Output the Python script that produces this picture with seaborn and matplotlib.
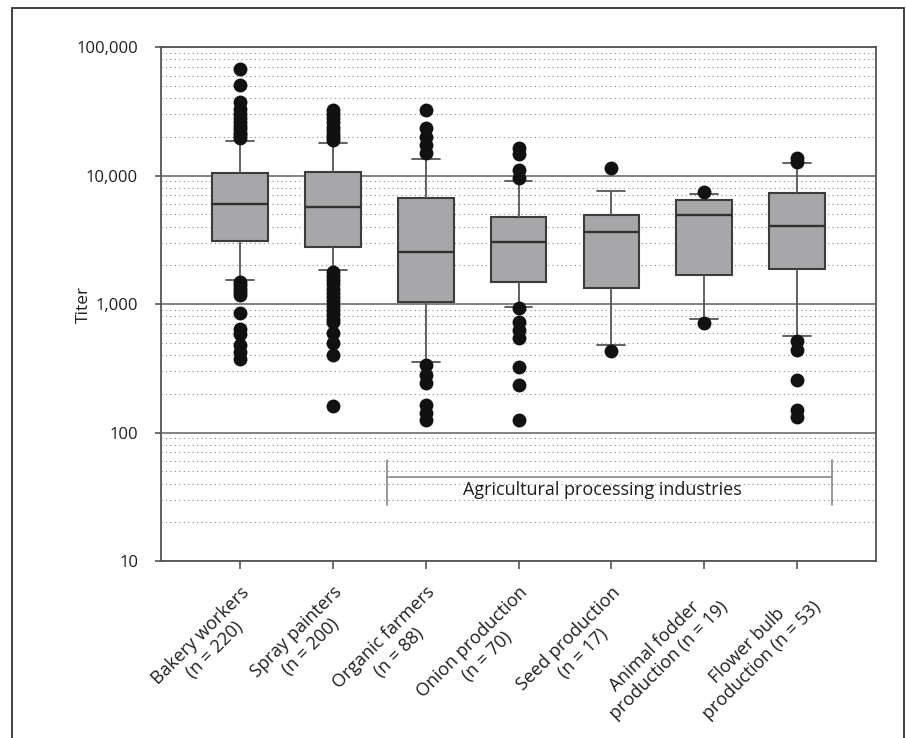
import matplotlib
matplotlib.use("Agg")
import matplotlib.pyplot as plt
from matplotlib.ticker import LogLocator, FuncFormatter, NullFormatter
from matplotlib.patches import Rectangle
import seaborn as sns
import pandas as pd

# ---- data -------------------------------------------------------------
categories = [
    "Bakery workers\n(n = 220)",
    "Spray painters\n(n = 200)",
    "Organic farmers\n(n = 88)",
    "Onion production\n(n = 70)",
    "Seed production\n(n = 17)",
    "Animal fodder\nproduction (n = 19)",
    "Flower bulb\nproduction (n = 53)",
]

# box-plot summaries per group (titer)
whisker_low = [1540, 1840, 356, 942, 480, 760, 564]
q1 = [3080, 2790, 1042, 1476, 1340, 1682, 1862]
median = [5970, 5660, 2550, 3055, 3655, 4930, 4045]
q3 = [10500, 10700, 6640, 4775, 4930, 6440, 7260]
whisker_high = [18540, 18000, 13430, 9060, 7620, 7150, 12450]

# individual outlying titers per group
outliers_bakery = [67000, 50500, 37500, 33000, 30000, 28000, 26000, 24500,
                   23000, 21500, 20500, 19500,
                   1480, 1400, 1320, 1250, 1180, 850, 640, 580, 480, 420, 375]
outliers_spray = [32500, 30000, 28000, 26000, 24000, 22500, 21000, 19800, 18800,
                  1780, 1650, 1530, 1420, 1320, 1220, 1130, 1050, 970, 900,
                  830, 770, 720, 600, 500, 400, 161]
outliers_organic = [32400, 23300, 20000, 17300, 14900,
                    335, 280, 241, 164, 141, 125]
outliers_onion = [16500, 14700, 11000, 9600,
                  935, 727, 628, 545, 325, 234, 125]
outliers_seed = [11380, 431]
outliers_fodder = [7480, 716]
outliers_bulb = [13600, 12700, 518, 438, 256, 150, 133]

y_ticks = [10, 100, 1000, 10000, 100000]
bracket_label = "Agricultural processing industries"

# ---- tables -------------------------------------------------------------
box_rows = []
for cat, lo, a, m, b, hi in zip(categories, whisker_low, q1, median, q3, whisker_high):
    for v in (lo, a, m, b, hi):
        box_rows.append({"group": cat, "titer": v})
box_df = pd.DataFrame(box_rows)

all_outliers = [outliers_bakery, outliers_spray, outliers_organic, outliers_onion,
                outliers_seed, outliers_fodder, outliers_bulb]
out_rows = [{"group": cat, "titer": v}
            for cat, vals in zip(categories, all_outliers) for v in vals]
out_df = pd.DataFrame(out_rows)

# ---- style --------------------------------------------------------------
sns.set_theme(style="white")
plt.rcParams["font.family"] = ["Open Sans", "DejaVu Sans"]
text_col = "#1e1e1e"
line_col = "#555555"

fig = plt.figure(figsize=(9.06, 7.38), dpi=100)
ax = fig.add_axes([0.1777, 0.2398, 0.9669 - 0.1777, 0.9363 - 0.2398])
ax.set_yscale("log")

sns.boxplot(
    data=box_df, x="group", y="titer", order=categories, ax=ax,
    whis=(0, 100), width=0.6, color="#a7a7a9", saturation=1,
    linecolor="#3c3c3c", linewidth=1.5, showfliers=False,
    medianprops={"color": "#303030", "linewidth": 1.7},
    whiskerprops={"color": "#555555", "linewidth": 1.3},
    capprops={"color": "#555555", "linewidth": 1.3},
    zorder=3,
)
sns.stripplot(
    data=out_df, x="group", y="titer", order=categories, ax=ax,
    jitter=False, color="#111111", size=10, linewidth=0, zorder=4,
)

ax.set_xlim(-0.85, 6.85)
ax.set_ylim(10, 100000)

# grid: solid decades, dotted sub-decades
ax.yaxis.set_minor_locator(LogLocator(base=10, subs=range(2, 10), numticks=50))
ax.set_yticks(y_ticks)
ax.yaxis.set_major_formatter(FuncFormatter(lambda v, p: f"{v:,.0f}"))
ax.yaxis.set_minor_formatter(NullFormatter())
ax.grid(which="major", axis="y", color="#777777", linewidth=1.3, linestyle="-", zorder=0)
ax.grid(which="minor", axis="y", color="#8a8a8a", linewidth=0.8,
        linestyle=(0, (1, 3)), zorder=0)
ax.set_axisbelow(True)

for sp in ax.spines.values():
    sp.set_color(line_col)
    sp.set_linewidth(1.3)

ax.tick_params(axis="y", which="major", direction="out", length=4.5, width=1.2,
               color=line_col, labelsize=12, labelcolor=text_col, pad=12, left=True)
ax.tick_params(axis="y", which="minor", length=0)
ax.tick_params(axis="x", direction="out", length=6, width=1.2, color=line_col,
               labelsize=13, labelcolor=text_col, pad=10, bottom=True)

for lbl in ax.get_xticklabels():
    lbl.set_rotation(45)
    lbl.set_ha("right")
    lbl.set_va("top")
    lbl.set_rotation_mode("anchor")
    lbl.set_multialignment("center")

ax.set_xlabel("")
ax.set_ylabel("Titer", fontsize=12.5, color=text_col)
ax.yaxis.set_label_coords(-0.097, 0.5)

# bracket spanning the agricultural groups
bx0, bx1 = 1.58, 6.38
by, by_lo, by_hi = 45, 27.3, 61
ax.plot([bx0, bx1], [by, by], color="#888888", linewidth=1.2, zorder=2)
ax.plot([bx0, bx0], [by_lo, by_hi], color="#888888", linewidth=1.2, zorder=2)
ax.plot([bx1, bx1], [by_lo, by_hi], color="#888888", linewidth=1.2, zorder=2)
ax.text(3.9, 36, bracket_label, ha="center", va="center", fontsize=13,
        color=text_col, zorder=5)

# frame around the figure
fig.patches.append(Rectangle((12 / 906, -0.02), (904 - 12) / 906, 1.02 - 8 / 738,
                             transform=fig.transFigure, fill=False,
                             edgecolor="#333333", linewidth=1.3))

fig.savefig("out.png", dpi=100)
